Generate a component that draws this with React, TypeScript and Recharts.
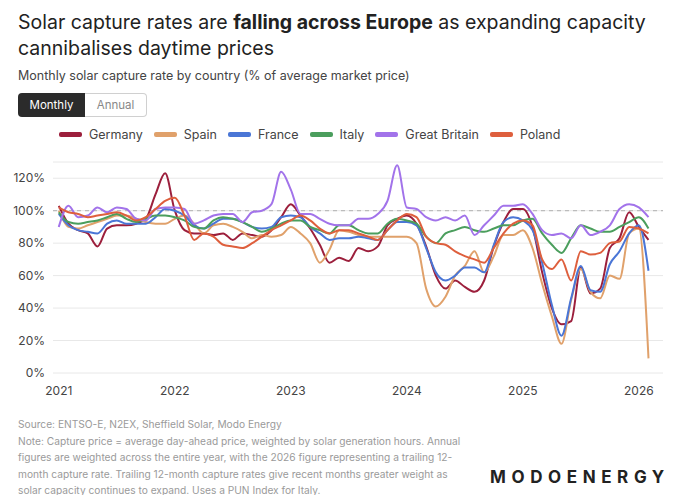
import React from 'react';
import { LineChart, Line, XAxis, YAxis, CartesianGrid, ReferenceLine } from 'recharts';

// monthly capture rate (%), Jan 2021 .. Feb 2026
const germany = [
  103, 92, 88, 86, 78, 89, 91, 91, 92, 95, 110, 123,
  100, 88, 86, 86, 85, 86, 82, 86, 85, 84, 88, 96,
  104, 97, 89, 79, 68, 71, 69, 77, 75, 78, 91, 95,
  97, 92, 78, 60, 52, 57, 53, 50, 57, 78, 93, 101,
  101, 90, 62, 40, 30, 32, 65, 49, 52, 77, 83, 99,
  90, 82,
];
const spain = [
  100, 90, 89, 91, 93, 95, 97, 97, 95, 93, 92, 92,
  95, 97, 92, 86, 91, 92, 90, 87, 83, 85, 84, 85,
  90, 86, 80, 68, 76, 88, 87, 85, 84, 84, 84, 84,
  84, 80, 52, 41, 47, 60, 66, 75, 62, 72, 85, 85,
  88, 77, 55, 35, 18, 45, 64, 50, 46, 60, 58, 86,
  89, 9,
];
const france = [
  98, 91, 88, 87, 86, 92, 94, 92, 92, 92, 96, 101,
  100, 97, 91, 89, 92, 95, 95, 93, 90, 89, 90, 96,
  97, 96, 90, 86, 82, 83, 83, 84, 83, 82, 88, 93,
  93, 91, 77, 62, 57, 60, 65, 65, 62, 79, 93, 96,
  94, 88, 68, 42, 23, 46, 66, 51, 50, 67, 75, 86,
  91, 63,
];
const italy = [
  99, 93, 92, 93, 94, 96, 98, 95, 93, 95, 97, 97,
  96, 94, 90, 89, 94, 96, 95, 93, 90, 87, 89, 92,
  94, 94, 90, 88, 86, 91, 91, 88, 86, 86, 92, 95,
  94, 92, 84, 80, 86, 88, 90, 88, 87, 89, 91, 91,
  94, 95, 86, 79, 74, 83, 91, 89, 87, 87, 90, 93,
  96, 89,
];
const greatBritain = [
  90, 103, 96, 97, 102, 99, 102, 101, 95, 94, 101, 102,
  102, 101, 92, 94, 97, 98, 98, 93, 99, 100, 104, 124,
  113, 98, 98, 95, 92, 91, 91, 95, 95, 98, 106, 128,
  102, 101, 96, 94, 96, 94, 97, 85, 91, 97, 103, 103,
  104, 98, 88, 85, 86, 83, 91, 85, 87, 91, 101, 104,
  102, 96,
];
const poland = [
  102, 99, 98, 96, 97, 98, 99, 97, 94, 96, 101, 106,
  108, 97, 82, 86, 84, 79, 78, 77, 80, 84, 88, 91,
  94, 97, 94, 89, 86, 88, 88, 86, 84, 82, 88, 94,
  98, 96, 84, 80, 79, 75, 72, 70, 68, 77, 86, 92,
  94, 91, 70, 64, 70, 57, 75, 73, 74, 80, 81, 90,
  89, 86,
];

const yearTicks = [0, 12, 24, 36, 48, 60];
const yearLabels = ['2021', '2022', '2023', '2024', '2025', '2026'];
const pctTicks = [0, 20, 40, 60, 80, 100, 120];

const series = [
  { key: 'germany', name: 'Germany', color: '#9c1f3c', values: germany },
  { key: 'spain', name: 'Spain', color: '#e0a16b', values: spain },
  { key: 'france', name: 'France', color: '#4a76d6', values: france },
  { key: 'italy', name: 'Italy', color: '#4b9e5d', values: italy },
  { key: 'gb', name: 'Great Britain', color: '#a273ea', values: greatBritain },
  { key: 'poland', name: 'Poland', color: '#de5f3d', values: poland },
];

const data = germany.map((_, i) => {
  const row: Record<string, number> = { t: i };
  series.forEach((s) => (row[s.key] = s.values[i]));
  return row;
});

const font = 'Inter, "Noto Sans", sans-serif';

const noteLines = [
  'Note: Capture price = average day-ahead price, weighted by solar generation hours. Annual',
  'figures are weighted across the entire year, with the 2026 figure representing a trailing 12-',
  'month capture rate. Trailing 12-month capture rates give recent months greater weight as',
  'solar capacity continues to expand. Uses a PUN Index for Italy.',
];

export default function App() {
  return (
    <div
      style={{
        position: 'relative',
        width: 680,
        height: 503,
        margin: -8,
        background: '#fff',
        fontFamily: font,
        overflow: 'hidden',
        color: '#222',
      }}
    >
      <div style={{ position: 'absolute', left: 18, top: 9, fontSize: 19.5, lineHeight: '26px', width: 660 }}>
        Solar capture rates are <b>falling across Europe</b> as expanding capacity
        <br />
        cannibalises daytime prices
      </div>
      <div style={{ position: 'absolute', left: 18, top: 68, fontSize: 12.5, color: '#444' }}>
        Monthly solar capture rate by country (% of average market price)
      </div>
      <div style={{ position: 'absolute', left: 18, top: 93, display: 'flex', fontSize: 11.5 }}>
        <div
          style={{
            width: 67,
            height: 24,
            background: '#2b2b2b',
            color: '#fff',
            borderRadius: '4px 0 0 4px',
            display: 'flex',
            alignItems: 'center',
            justifyContent: 'center',
          }}
        >
          Monthly
        </div>
        <div
          style={{
            width: 61,
            height: 22,
            border: '1px solid #d0d0d0',
            borderLeft: 'none',
            color: '#888',
            borderRadius: '0 4px 4px 0',
            display: 'flex',
            alignItems: 'center',
            justifyContent: 'center',
          }}
        >
          Annual
        </div>
      </div>
      <div style={{ position: 'absolute', left: 59, top: 127, display: 'flex', alignItems: 'center', fontSize: 12.5, color: '#444' }}>
        {series.map((s) => (
          <div key={s.key} style={{ display: 'flex', alignItems: 'center', marginRight: 11 }}>
            <div style={{ width: 23, height: 5, borderRadius: 2, background: s.color, marginRight: 7 }} />
            <span>{s.name}</span>
          </div>
        ))}
      </div>

      <div style={{ position: 'absolute', left: 0, top: 0 }}>
        <LineChart width={680} height={400} data={data} margin={{ top: 162, right: 17, bottom: 0, left: 8 }}>
          <CartesianGrid vertical={false} stroke="#e8e8e8" />
          <XAxis
            dataKey="t"
            type="number"
            domain={[-0.6, 62.5]}
            ticks={yearTicks}
            tickFormatter={(v) => yearLabels[yearTicks.indexOf(v)]}
            axisLine={false}
            tickLine={false}
            tickMargin={7}
            height={27}
            tick={{ fontSize: 12, fill: '#444', fontFamily: font }}
          />
          <YAxis
            type="number"
            domain={[0, 130]}
            ticks={pctTicks}
            tickFormatter={(v) => `${v}%`}
            axisLine={false}
            tickLine={false}
            width={45}
            tick={{ fontSize: 12, fill: '#444', fontFamily: font }}
          />
          <ReferenceLine y={100} stroke="#b0b0b0" strokeDasharray="4 4" />
          {series.map((s) => (
            <Line
              key={s.key}
              type="monotone"
              dataKey={s.key}
              stroke={s.color}
              strokeWidth={2}
              dot={false}
              isAnimationActive={false}
            />
          ))}
        </LineChart>
      </div>

      <div style={{ position: 'absolute', left: 18, top: 416, fontSize: 10.2, lineHeight: '16.5px', color: '#9a9a9a' }}>
        <div>Source: ENTSO-E, N2EX, Sheffield Solar, Modo Energy</div>
        {noteLines.map((l, i) => (
          <div key={i}>{l}</div>
        ))}
      </div>
      <div
        style={{
          position: 'absolute',
          left: 490,
          top: 467,
          fontSize: 17,
          fontWeight: 700,
          letterSpacing: 5.6,
          color: '#222',
          whiteSpace: 'nowrap',
        }}
      >
        MODOENERGY
      </div>
    </div>
  );
}
